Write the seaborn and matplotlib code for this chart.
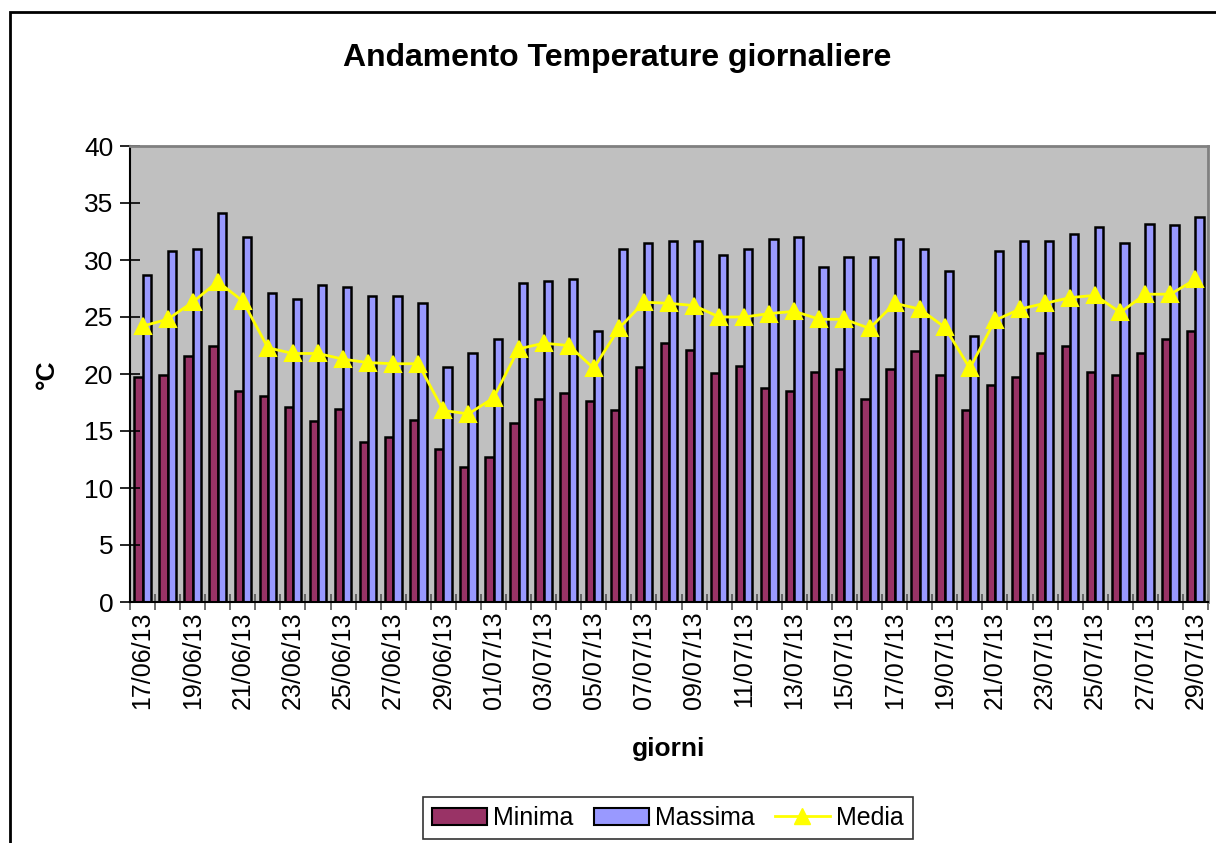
import pandas as pd
import matplotlib.pyplot as plt
import seaborn as sns
from matplotlib.patches import Rectangle, Patch
from matplotlib.lines import Line2D

# dati: temperature giornaliere 17/06/13 - 29/07/13
giorni = ["17/06/13", "18/06/13", "19/06/13", "20/06/13", "21/06/13", "22/06/13",
          "23/06/13", "24/06/13", "25/06/13", "26/06/13", "27/06/13", "28/06/13",
          "29/06/13", "30/06/13", "01/07/13", "02/07/13", "03/07/13", "04/07/13",
          "05/07/13", "06/07/13", "07/07/13", "08/07/13", "09/07/13", "10/07/13",
          "11/07/13", "12/07/13", "13/07/13", "14/07/13", "15/07/13", "16/07/13",
          "17/07/13", "18/07/13", "19/07/13", "20/07/13", "21/07/13", "22/07/13",
          "23/07/13", "24/07/13", "25/07/13", "26/07/13", "27/07/13", "28/07/13",
          "29/07/13"]

minima = [19.7, 19.9, 21.6, 22.5, 18.5, 18.1, 17.1, 15.9, 16.9, 14.0, 14.5, 16.0,
          13.4, 11.8, 12.7, 15.7, 17.8, 18.3, 17.6, 16.8, 20.6, 22.7, 22.1, 20.1,
          20.7, 18.8, 18.5, 20.2, 20.4, 17.8, 20.4, 22.0, 19.9, 16.8, 19.0, 19.7,
          21.8, 22.5, 20.2, 19.9, 21.8, 23.1, 23.8]

massima = [28.7, 30.8, 31.0, 34.1, 32.0, 27.1, 26.6, 27.8, 27.6, 26.8, 26.8, 26.2,
           20.6, 21.8, 23.1, 28.0, 28.2, 28.3, 23.8, 31.0, 31.5, 31.7, 31.7, 30.4,
           31.0, 31.8, 32.0, 29.4, 30.3, 30.3, 31.8, 31.0, 29.0, 23.3, 30.8, 31.7,
           31.7, 32.3, 32.9, 31.5, 33.2, 33.1, 33.8]

media = [24.2, 24.8, 26.3, 28.1, 26.4, 22.3, 21.8, 21.8, 21.3, 21.0, 20.9, 20.9,
         16.8, 16.5, 17.9, 22.2, 22.7, 22.5, 20.5, 24.0, 26.3, 26.2, 26.0, 25.0,
         25.0, 25.3, 25.5, 24.8, 24.8, 24.0, 26.2, 25.7, 24.1, 20.5, 24.7, 25.7,
         26.2, 26.7, 26.9, 25.4, 27.0, 27.0, 28.3]

serie = ["Minima", "Massima"]
colori = {"Minima": "#993366", "Massima": "#9999FF"}

df = pd.DataFrame({"giorno": giorni, "Minima": minima, "Massima": massima})
df_long = df.melt(id_vars="giorno", value_vars=serie, var_name="serie", value_name="temp")

plt.rcParams["font.family"] = ["Liberation Sans", "DejaVu Sans"]

fig = plt.figure(figsize=(12.16, 8.43), dpi=100)
ax = fig.add_axes([130 / 1216, 1 - 602 / 843, (1208 - 130) / 1216, (602 - 146) / 843])

sns.barplot(data=df_long, x="giorno", y="temp", hue="serie", hue_order=serie,
            order=giorni, palette=colori, width=0.66, edgecolor="black",
            linewidth=1.8, saturation=1, legend=False, ax=ax)
sns.pointplot(x=giorni, y=media, order=giorni, color="#FFFF00", marker="^",
              markersize=11, linewidth=2, ax=ax)

ax.set_facecolor("#C0C0C0")
ax.set_xlim(-0.5, len(giorni) - 0.5)
ax.set_ylim(0, 40)
ax.set_yticks(range(0, 41, 5))
ax.tick_params(axis="y", labelsize=19, direction="inout", length=14, width=1.2, pad=5)

ax.set_xticks(range(0, len(giorni), 2))
ax.set_xticklabels(giorni[::2], rotation=90)
ax.set_xticks([i - 0.5 for i in range(len(giorni) + 1)], minor=True)
ax.tick_params(axis="x", which="major", length=0, labelsize=18, pad=7)
ax.tick_params(axis="x", which="minor", direction="inout", length=12, width=1.2, color="#555555")

for s in ["top", "right"]:
    ax.spines[s].set_color("#808080")
    ax.spines[s].set_linewidth(2)
for s in ["left", "bottom"]:
    ax.spines[s].set_color("black")
    ax.spines[s].set_linewidth(1.5)

ax.set_xlabel("giorni", fontsize=19, fontweight="bold", labelpad=20)
ax.set_ylabel("°C", fontsize=19, fontweight="bold", labelpad=18)
fig.text(617 / 1216, 1 - 58 / 843, "Andamento Temperature giornaliere",
         ha="center", va="center", fontsize=23, fontweight="bold")

handles = [Patch(facecolor=colori["Minima"], edgecolor="black", linewidth=1.5),
           Patch(facecolor=colori["Massima"], edgecolor="black", linewidth=1.5),
           Line2D([], [], color="#FFFF00", marker="^", markersize=11, linewidth=2)]
leg = fig.legend(handles, ["Minima", "Massima", "Media"], ncol=3, loc="center",
                 bbox_to_anchor=(668 / 1216, 1 - 818 / 843), fontsize=18,
                 fancybox=False, frameon=True, edgecolor="black", handlelength=2.2,
                 handletextpad=0.25, columnspacing=0.8, borderpad=0.35)
leg.get_frame().set_linewidth(1.2)

fig.patches.append(Rectangle((10 / 1216, -0.05), 1.2, 1 - 12 / 843 + 0.05,
                             transform=fig.transFigure, fill=False,
                             edgecolor="black", linewidth=2, clip_on=False))

fig.savefig("out.png", dpi=100, facecolor="white")
